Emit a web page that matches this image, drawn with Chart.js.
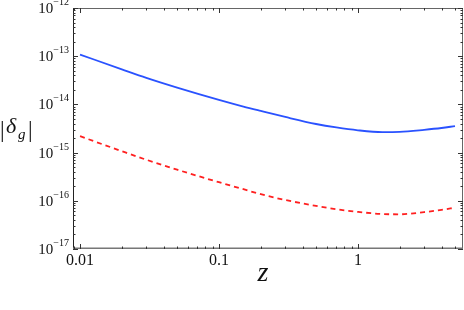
<!DOCTYPE html>
<html lang="en">
<head>
<meta charset="UTF-8">
<title>delta_g vs z</title>
<script src="https://cdn.jsdelivr.net/npm/chart.js@4/dist/chart.umd.min.js"></script>
<style>
  body { margin: 0; background: #fff; }
  #wrap { width: 464px; height: 310px; }
</style>
</head>
<body>
<div id="wrap"><canvas id="myChart" width="464" height="310"></canvas></div>
<script>
// values
const zValues = [0.01, 0.02, 0.03, 0.05, 0.1, 0.15, 0.2, 0.3, 0.5, 0.7, 1, 1.5, 2, 3, 4, 5];
const solidValues = [1.08e-13, 5.33e-14, 3.55e-14, 2.23e-14, 1.24e-14, 9.0e-15, 7.3e-15, 5.48e-15, 3.92e-15, 3.32e-15, 2.90e-15, 2.67e-15, 2.70e-15, 2.97e-15, 3.24e-15, 3.55e-15];
const dashedValues = [2.19e-15, 1.07e-15, 7.11e-16, 4.42e-16, 2.43e-16, 1.74e-16, 1.37e-16, 1.04e-16, 7.83e-17, 6.70e-17, 5.89e-17, 5.32e-17, 5.25e-17, 5.83e-17, 6.47e-17, 7.19e-17];

const xTickValues = [0.01, 0.1, 1];
const xTickLabels = ['0.01', '0.1', '1'];
const yExponents = [-12, -13, -14, -15, -16, -17];

const serif = '"Liberation Serif", "DejaVu Serif", serif';

function toPoints(ys) {
    return zValues.map((z, i) => ({ x: z, y: ys[i] }));
}

// frame, inward ticks and labels (Mathematica style)
const framePlugin = {
    id: 'frame',
    afterDraw(chart) {
        const ctx = chart.ctx;
        const a = chart.chartArea;
        const xs = chart.scales.x;
        const ys = chart.scales.y;
        ctx.save();

        ctx.strokeStyle = '#666';
        ctx.lineWidth = 1;
        ctx.strokeRect(a.left + 0.5, a.top + 0.5, a.right - a.left - 1, a.bottom - a.top - 1);
        ctx.strokeStyle = '#222';
        ctx.beginPath();
        ctx.moveTo(a.left + 0.5, a.top);
        ctx.lineTo(a.left + 0.5, a.bottom);
        ctx.stroke();
        ctx.strokeStyle = '#777';
        ctx.lineWidth = 1.6;
        ctx.beginPath();
        ctx.moveTo(a.left, a.bottom - 0.8);
        ctx.lineTo(a.right, a.bottom - 0.8);
        ctx.stroke();

        ctx.strokeStyle = '#333';
        ctx.lineWidth = 1;
        // y ticks
        yExponents.forEach(e => {
            for (let m = 1; m <= 9; m++) {
                const v = m * Math.pow(10, e);
                if (v < ys.min * 0.999 || v > ys.max * 1.001) continue;
                const py = Math.round(ys.getPixelForValue(v)) + 0.5;
                const len = m === 1 ? 5 : 2.5;
                ctx.beginPath();
                ctx.moveTo(a.left, py); ctx.lineTo(a.left + len, py);
                ctx.moveTo(a.right, py); ctx.lineTo(a.right - len, py);
                ctx.stroke();
            }
        });
        // x ticks
        [-3, -2, -1, 0].forEach(e => {
            for (let m = 1; m <= 9; m++) {
                const v = m * Math.pow(10, e);
                if (v < xs.min || v > xs.max) continue;
                const px = Math.round(xs.getPixelForValue(v)) + 0.5;
                const len = m === 1 ? 5 : 2.5;
                ctx.beginPath();
                ctx.moveTo(px, a.bottom); ctx.lineTo(px, a.bottom - len);
                ctx.moveTo(px, a.top); ctx.lineTo(px, a.top + len);
                ctx.stroke();
            }
        });

        ctx.fillStyle = '#111';
        // y labels 10^e
        yExponents.forEach(e => {
            const py = ys.getPixelForValue(Math.pow(10, e));
            const sup = '\u2212' + Math.abs(e);
            ctx.font = '10px ' + serif;
            const w2 = ctx.measureText(sup).width;
            const right = a.left - 4;
            ctx.textAlign = 'left';
            ctx.textBaseline = 'alphabetic';
            ctx.fillText(sup, right - w2, py - 3);
            ctx.font = '15px ' + serif;
            ctx.textAlign = 'right';
            ctx.fillText('10', right - w2, py + 5);
        });
        // x labels
        ctx.font = '16px ' + serif;
        ctx.textAlign = 'center';
        xTickValues.forEach((v, i) => {
            ctx.fillText(xTickLabels[i], xs.getPixelForValue(v), a.bottom + 16);
        });
        // axis titles
        ctx.font = 'italic 28px ' + serif;
        ctx.fillText('z', 263, 281);
        ctx.textAlign = 'left';
        ctx.font = '23px ' + serif;
        ctx.fillText('|', 0, 137);
        ctx.fillText('|', 28, 137);
        ctx.font = 'italic 22px ' + serif;
        ctx.fillText('\u03b4', 6, 133);
        ctx.font = 'italic 15px ' + serif;
        ctx.fillText('g', 18, 139);
        ctx.restore();
    }
};

new Chart(document.getElementById('myChart'), {
    type: 'line',
    data: {
        datasets: [{
            label: 'solid',
            data: toPoints(solidValues),
            borderColor: '#2a52ff',
            borderWidth: 1.8,
            pointRadius: 0,
            cubicInterpolationMode: 'monotone',
            fill: false
        }, {
            label: 'dashed',
            data: toPoints(dashedValues),
            borderColor: '#ff2020',
            borderWidth: 1.8,
            borderDash: [5, 4],
            pointRadius: 0,
            cubicInterpolationMode: 'monotone',
            fill: false
        }]
    },
    options: {
        responsive: false,
        animation: false,
        layout: { padding: { left: 73, right: 1, top: 8, bottom: 61 } },
        plugins: { legend: { display: false }, tooltip: { enabled: false } },
        scales: {
            x: { type: 'logarithmic', min: 0.0089, max: 5.71, display: false },
            y: { type: 'logarithmic', min: 1e-17, max: 1e-12, display: false }
        }
    },
    plugins: [framePlugin]
});
</script>
</body>
</html>
